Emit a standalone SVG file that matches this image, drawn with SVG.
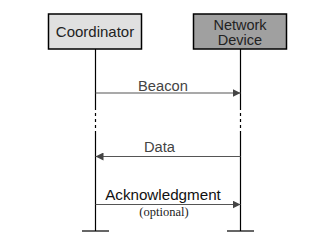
<svg xmlns="http://www.w3.org/2000/svg" width="321" height="240" viewBox="0 0 321 240">
<style>
.box{stroke:#000;stroke-width:1.5}
.life{stroke:#000;stroke-width:1.2;fill:none}
.dash{stroke:#000;stroke-width:1.2;stroke-dasharray:3 3;fill:none}
.msg{stroke:#555;stroke-width:1.2;fill:none}
.lbl{font-family:"Liberation Sans",Arial,sans-serif;font-size:14.7px;fill:#444;text-anchor:middle}
.name{font-family:"Liberation Sans",Arial,sans-serif;font-size:15px;fill:#222;text-anchor:middle}
</style>
<defs>
<marker id="ah" viewBox="0 0 10 10" refX="10" refY="5" markerWidth="8" markerHeight="8" markerUnits="userSpaceOnUse" orient="auto">
<path d="M0,0 L10,5 L0,10 z" fill="#444"/>
</marker>
</defs>
<rect width="321" height="240" fill="#fff"/>
<g id="coordinator">
<rect class="box" x="48.5" y="14" width="93" height="35" fill="#e0e0e0"/>
<text class="name" x="95" y="37">Coordinator</text>
<path class="life" d="M95.5,49 V107 M95.5,134 V231"/>
<path class="dash" d="M95.5,107 V134"/>
<path class="life" d="M82,231 H109"/>
</g>
<g id="network-device">
<rect class="box" x="193.5" y="14" width="93" height="35" fill="#a0a0a0"/>
<text class="name" x="240" y="29.5" style="font-size:14.5px">Network</text>
<text class="name" x="240" y="44.5" style="font-size:14.5px">Device</text>
<path class="life" d="M240.5,49 V107 M240.5,134 V231"/>
<path class="dash" d="M240.5,107 V134"/>
<path class="life" d="M227,231 H254"/>
</g>
<g id="connectors">
<line class="msg" x1="95.5" y1="93" x2="240.5" y2="93" marker-end="url(#ah)"/>
<text class="lbl" x="163" y="90.5">Beacon</text>
<line class="msg" x1="240.5" y1="156.5" x2="95.5" y2="156.5" marker-end="url(#ah)"/>
<text class="lbl" x="159.5" y="151.5">Data</text>
<line class="msg" x1="95.5" y1="204.5" x2="240.5" y2="204.5" marker-end="url(#ah)"/>
<text class="lbl" x="163" y="200" style="fill:#111;font-size:15.2px">Acknowledgment</text>
<text x="164" y="215.5" style="font-family:'Liberation Serif','Times New Roman',serif;font-size:12.5px;fill:#222;text-anchor:middle">(optional)</text>
</g>
</svg>
